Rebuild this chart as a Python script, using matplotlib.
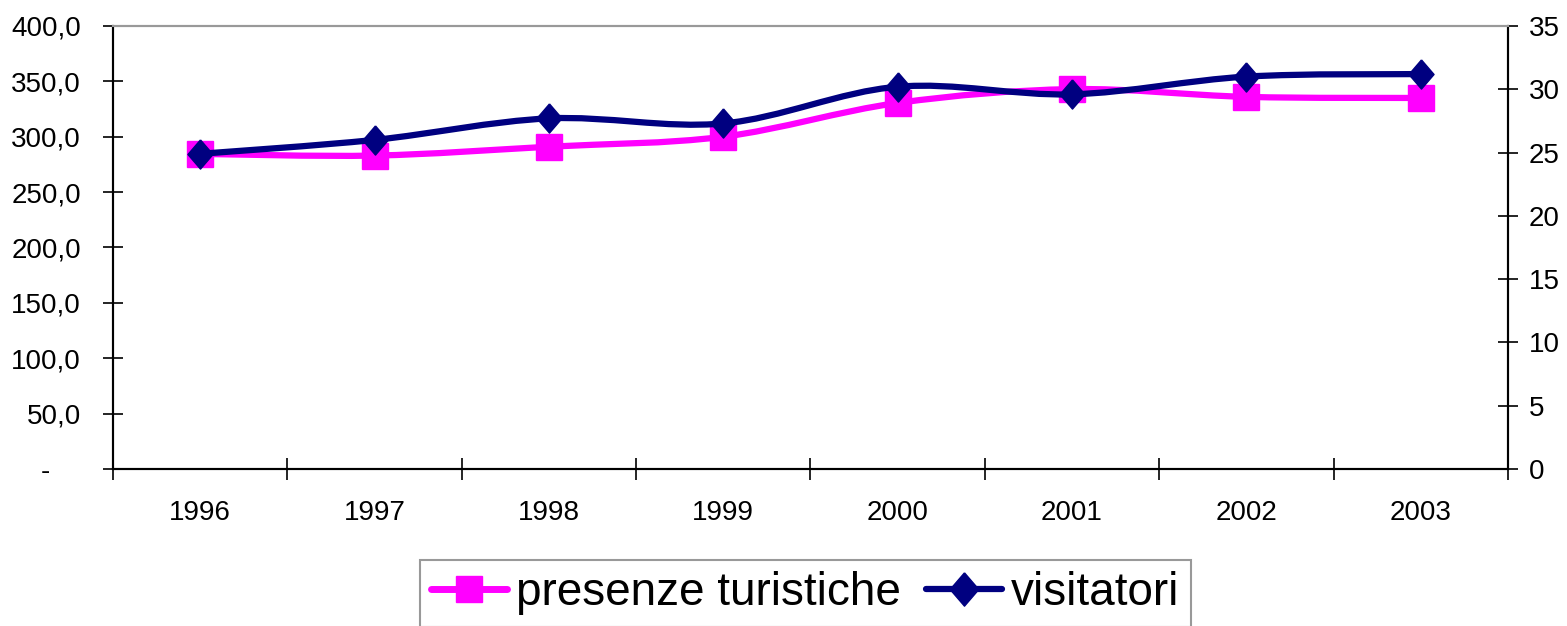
import matplotlib
matplotlib.use("Agg")
import matplotlib.pyplot as plt
import numpy as np
from matplotlib.path import Path
from matplotlib.patches import PathPatch
from matplotlib.lines import Line2D
from matplotlib.ticker import FuncFormatter, FixedLocator

plt.rcParams['font.family'] = ['Liberation Sans', 'DejaVu Sans']

anni = ['1996', '1997', '1998', '1999', '2000', '2001', '2002', '2003']
presenze = [284.5, 283.0, 291.0, 300.0, 330.5, 343.0, 336.0, 335.0]
visitatori = [24.9, 26.0, 27.7, 27.3, 30.2, 29.6, 31.0, 31.2]

ROSA = '#FF00FF'
BLU = '#000080'


def smooth_path(xs, ys):
    # curva di Bezier stile Excel (Catmull-Rom)
    p = np.column_stack([xs, ys]).astype(float)
    verts = [p[0]]
    codes = [Path.MOVETO]
    n = len(p)
    for i in range(n - 1):
        p0 = p[i - 1] if i > 0 else p[i]
        p3 = p[i + 2] if i + 2 < n else p[i + 1]
        c1 = p[i] + (p[i + 1] - p0) / 6.0
        c2 = p[i + 1] - (p3 - p[i]) / 6.0
        verts += [c1, c2, p[i + 1]]
        codes += [Path.CURVE4] * 3
    return Path(verts, codes)


fig = plt.figure(figsize=(15.67, 6.26), dpi=100)
ax = fig.add_axes([0.0721, 0.2508, 0.8902, 0.7077])
ax2 = ax.twinx()

x = np.arange(len(anni))
diamante = [(0, 1), (0.86, 0), (0, -1), (-0.86, 0), (0, 1)]

ax.add_patch(PathPatch(smooth_path(x, presenze), facecolor='none', edgecolor=ROSA,
                       lw=4.5, capstyle='round', joinstyle='round', zorder=2))
ax.plot(x, presenze, ls='none', marker='s', ms=19, color=ROSA, zorder=3)

ax2.add_patch(PathPatch(smooth_path(x, visitatori), facecolor='none', edgecolor=BLU,
                        lw=4.5, capstyle='round', joinstyle='round', zorder=2))
ax2.plot(x, visitatori, ls='none', marker=diamante, ms=21, color=BLU, zorder=3)

ax.set_xlim(-0.5, len(anni) - 0.5)
ax.set_ylim(0, 400)
ax2.set_ylim(0, 35)

ax.set_yticks(np.arange(0, 401, 50))
ax.yaxis.set_major_formatter(FuncFormatter(
    lambda v, pos: '-    ' if v == 0 else ('%.1f' % v).replace('.', ',')))
ax2.set_yticks(np.arange(0, 36, 5))

ax.set_xticks(x)
ax.set_xticklabels(anni)
ax.xaxis.set_minor_locator(FixedLocator(np.arange(len(anni) + 1) - 0.5))
ax.tick_params(axis='x', which='major', length=0, pad=22, labelsize=20)
ax.tick_params(axis='x', which='minor', direction='inout', length=16, width=1.2)
ax.tick_params(axis='y', direction='inout', length=14, width=1.2, labelsize=20, pad=16)
ax2.tick_params(axis='y', direction='inout', length=14, width=1.2, labelsize=20, pad=8)

for a in (ax, ax2):
    a.spines['top'].set_color('#999999')
    a.spines['top'].set_linewidth(1.5)
    for s in ('left', 'right', 'bottom'):
        a.spines[s].set_linewidth(1.5)
        a.spines[s].set_color('black')

handles = [
    Line2D([], [], color=ROSA, lw=5, marker='s', ms=19, solid_capstyle='round'),
    Line2D([], [], color=BLU, lw=4.5, marker=diamante, ms=24, solid_capstyle='round'),
]
leg = fig.legend(handles, ['presenze turistiche', 'visitatori'], loc='upper left',
                 bbox_to_anchor=(420 / 1567, 1 - 560 / 626), ncol=2, fontsize=33,
                 frameon=True, fancybox=False, handlelength=1.65, handletextpad=0.2,
                 columnspacing=0.55, borderpad=0.25, borderaxespad=0)
leg.get_frame().set_edgecolor('#808080')
leg.get_frame().set_linewidth(1.5)

fig.savefig('out.png', dpi=100)
